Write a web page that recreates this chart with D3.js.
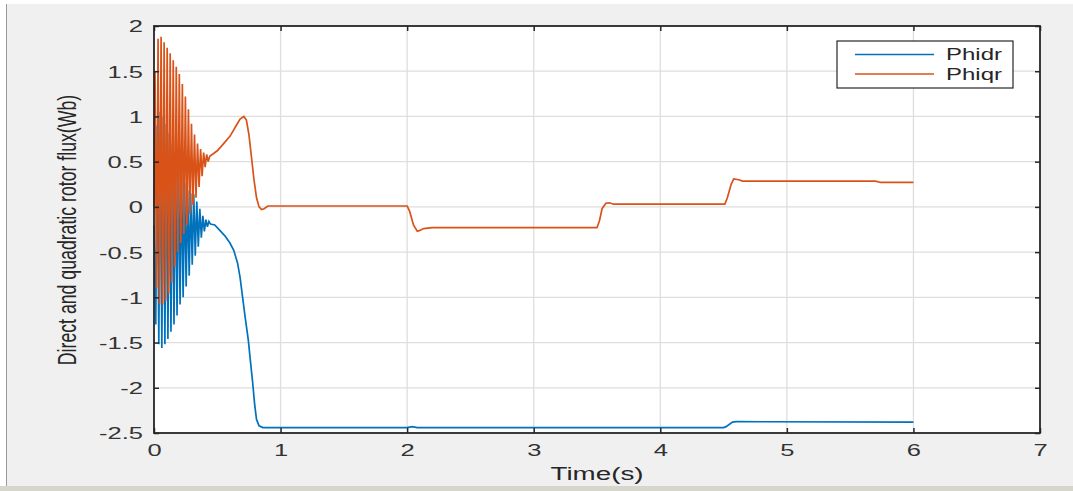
<!DOCTYPE html>
<html>
<head>
<meta charset="utf-8">
<script src="https://cdn.jsdelivr.net/npm/d3@7"></script>
<style>
  html, body { margin: 0; padding: 0; background: #ffffff; }
  #dataViz { width: 1073px; height: 491px; }
  text { font-family: "Liberation Sans", Arial, sans-serif; fill: #262626; }
</style>
</head>
<body>
<div id="dataViz"></div>
<script>
// Axis ticks
const timeTicks = [0, 1, 2, 3, 4, 5, 6, 7];
const fluxTicks = [-2.5, -2, -1.5, -1, -0.5, 0, 0.5, 1, 1.5, 2];
const seriesNames = ["Phidr", "Phiqr"];

// Phidr (direct rotor flux) [time s, flux Wb]
const phidr = [
  [0.000, -0.20], [0.014, -1.30], [0.026, 0.90], [0.038, -1.52], [0.050, 1.05],
  [0.062, -1.56], [0.074, 1.00], [0.086, -1.52], [0.098, 0.92], [0.110, -1.46],
  [0.122, 0.82], [0.134, -1.38], [0.146, 0.70], [0.158, -1.30], [0.170, 0.58],
  [0.182, -1.20], [0.194, 0.46], [0.206, -1.08], [0.218, 0.36], [0.230, -1.00],
  [0.242, 0.26], [0.254, -0.88], [0.266, 0.18], [0.278, -0.76], [0.290, 0.15],
  [0.302, -0.64], [0.314, 0.14], [0.326, -0.54], [0.338, 0.06], [0.350, -0.44],
  [0.362, -0.02], [0.374, -0.34], [0.386, -0.10], [0.398, -0.27], [0.410, -0.14],
  [0.422, -0.22], [0.434, -0.16], [0.446, -0.19],
  [0.48, -0.20], [0.52, -0.26], [0.56, -0.32], [0.60, -0.40], [0.63, -0.48],
  [0.66, -0.62], [0.68, -0.78], [0.70, -1.00], [0.72, -1.22], [0.745, -1.47],
  [0.76, -1.68], [0.78, -1.95], [0.795, -2.18], [0.81, -2.35], [0.83, -2.42],
  [0.86, -2.44], [1.00, -2.44], [2.00, -2.44], [2.04, -2.43], [2.08, -2.44],
  [4.50, -2.44], [4.52, -2.43], [4.57, -2.38], [4.60, -2.375], [6.00, -2.38]
];

// Phiqr (quadrature rotor flux) [time s, flux Wb]
const phiqr = [
  [0.000, 0.00], [0.008, 1.50], [0.020, -0.90], [0.032, 1.86], [0.044, -1.08],
  [0.056, 1.88], [0.068, -1.08], [0.080, 1.82], [0.092, -1.04], [0.104, 1.76],
  [0.116, -0.96], [0.128, 1.70], [0.140, -0.84], [0.152, 1.62], [0.164, -0.66],
  [0.176, 1.55], [0.188, -0.50], [0.200, 1.47], [0.212, -0.40], [0.224, 1.36],
  [0.236, -0.30], [0.248, 1.22], [0.260, -0.20], [0.272, 1.08], [0.284, -0.08],
  [0.296, 0.92], [0.308, 0.02], [0.320, 0.80], [0.332, 0.10], [0.344, 0.70],
  [0.356, 0.22], [0.368, 0.64], [0.380, 0.34], [0.392, 0.60], [0.404, 0.44],
  [0.416, 0.58], [0.428, 0.50], [0.440, 0.56],
  [0.50, 0.62], [0.55, 0.70], [0.60, 0.78], [0.65, 0.90], [0.68, 0.97],
  [0.71, 1.00], [0.73, 0.96], [0.75, 0.80], [0.77, 0.55], [0.79, 0.30],
  [0.81, 0.10], [0.83, 0.00], [0.85, -0.03], [0.87, -0.02], [0.90, 0.01],
  [1.00, 0.01], [2.00, 0.01], [2.02, -0.05], [2.05, -0.20], [2.08, -0.27],
  [2.10, -0.26], [2.13, -0.24], [2.20, -0.23], [3.50, -0.23], [3.52, -0.15],
  [3.54, -0.02], [3.57, 0.04], [3.60, 0.045], [3.63, 0.03], [4.51, 0.03],
  [4.53, 0.10], [4.56, 0.25], [4.58, 0.31], [4.62, 0.30], [4.65, 0.285],
  [5.70, 0.285], [5.74, 0.27], [6.00, 0.27]
];

const width = 1073;
const height = 491;
const plot = { left: 154, right: 1040, top: 26, bottom: 433 };

const colours = {
  "page": "#f0f0f0",
  "grid": "#dedede",
  "axis": "#262626",
  "Phidr": "#0072bd",
  "Phiqr": "#d95319"
};

// text in the reference is stretched sideways
const sx = 1.5;

const svg = d3.select("#dataViz").append("svg")
  .attr("width", width)
  .attr("height", height);

// Figure background
svg.append("rect").attr("x", 0).attr("y", 0).attr("width", width).attr("height", height).attr("fill", "#ffffff");
svg.append("rect").attr("x", 6).attr("y", 4).attr("width", width - 6).attr("height", 482).attr("fill", colours.page);
svg.append("line").attr("x1", 6.5).attr("x2", 6.5).attr("y1", 4).attr("y2", 486).attr("stroke", "#9a9a9a");
svg.append("rect").attr("x", 0).attr("y", 486).attr("width", width).attr("height", 5).attr("fill", "#d6d6cc");

// Scales
const xScale = d3.scaleLinear().domain([0, 7]).range([plot.left, plot.right]);
const yScale = d3.scaleLinear().domain([-2.5, 2]).range([plot.bottom, plot.top]);

svg.append("rect")
  .attr("x", plot.left).attr("y", plot.top)
  .attr("width", plot.right - plot.left).attr("height", plot.bottom - plot.top)
  .attr("fill", "#ffffff");

// Grid
svg.append("g")
  .selectAll("line")
  .data(timeTicks.slice(1, -1))
  .join("line")
  .attr("x1", d => xScale(d)).attr("x2", d => xScale(d))
  .attr("y1", plot.top).attr("y2", plot.bottom)
  .attr("stroke", colours.grid).attr("stroke-width", 1.3);

svg.append("g")
  .selectAll("line")
  .data(fluxTicks.slice(1, -1))
  .join("line")
  .attr("x1", plot.left).attr("x2", plot.right)
  .attr("y1", d => yScale(d)).attr("y2", d => yScale(d))
  .attr("stroke", colours.grid).attr("stroke-width", 1.3);

// Lines
const line = d3.line()
  .x(d => xScale(d[0]))
  .y(d => yScale(d[1]));

svg.append("path")
  .datum(phidr)
  .attr("fill", "none")
  .attr("stroke", colours.Phidr)
  .attr("stroke-width", 1.7)
  .attr("d", line);

svg.append("path")
  .datum(phiqr)
  .attr("fill", "none")
  .attr("stroke", colours.Phiqr)
  .attr("stroke-width", 1.7)
  .attr("d", line);

// Axes (ticks point inward)
const fmt = d => String(d);

const xAxis = svg.append("g")
  .attr("transform", `translate(0, ${plot.bottom})`)
  .call(d3.axisBottom(xScale).tickValues(timeTicks).tickFormat(fmt).tickSizeInner(-5).tickSizeOuter(0));
xAxis.selectAll("text")
  .attr("y", 17)
  .attr("dy", "0.35em")
  .attr("transform", `scale(${sx},1)`)
  .style("font-size", "17px")
  .style("fill", "#333");

const xAxisTop = svg.append("g")
  .attr("transform", `translate(0, ${plot.top})`)
  .call(d3.axisTop(xScale).tickValues(timeTicks).tickFormat("").tickSizeInner(-5).tickSizeOuter(0));

const yAxis = svg.append("g")
  .attr("transform", `translate(${plot.left}, 0)`)
  .call(d3.axisLeft(yScale).tickValues(fluxTicks).tickFormat(fmt).tickSizeInner(-5).tickSizeOuter(0));
yAxis.selectAll("text")
  .attr("x", -11 / sx)
  .attr("dy", "0.35em")
  .attr("transform", `scale(${sx},1)`)
  .style("font-size", "17px")
  .style("fill", "#333");

const yAxisRight = svg.append("g")
  .attr("transform", `translate(${plot.right}, 0)`)
  .call(d3.axisRight(yScale).tickValues(fluxTicks).tickFormat("").tickSizeInner(-5).tickSizeOuter(0));

svg.selectAll(".domain").attr("stroke", "none");
svg.selectAll(".tick line").attr("stroke", colours.axis).attr("stroke-width", 1.5);

// Axes box
svg.append("rect")
  .attr("x", plot.left).attr("y", plot.top)
  .attr("width", plot.right - plot.left).attr("height", plot.bottom - plot.top)
  .attr("fill", "none")
  .attr("stroke", colours.axis)
  .attr("stroke-width", 1.8);

// Label for the x-axis
svg.append("text")
  .attr("transform", `translate(597, 474) scale(${sx},1)`)
  .attr("dy", "0.35em")
  .style("text-anchor", "middle")
  .style("font-size", "18.5px")
  .text("Time(s)");

// Label for the y-axis
svg.append("text")
  .attr("transform", `translate(76, 230) scale(${sx},1) rotate(-90)`)
  .style("text-anchor", "middle")
  .style("font-size", "17.7px")
  .text("Direct and quadratic rotor flux(Wb)");

// Legend
const legend = svg.append("g");
legend.append("rect")
  .attr("x", 837).attr("y", 41).attr("width", 176).attr("height", 47)
  .attr("fill", "#ffffff")
  .attr("stroke", colours.axis)
  .attr("stroke-width", 1.2);

const legendItems = legend.selectAll(".item")
  .data(seriesNames)
  .join("g")
  .attr("class", "item")
  .attr("transform", (d, i) => `translate(0, ${54.5 + i * 19.5})`);

legendItems.append("line")
  .attr("x1", 855).attr("x2", 934)
  .attr("y1", 0).attr("y2", 0)
  .attr("stroke", d => colours[d])
  .attr("stroke-width", 1.3);

legendItems.append("text")
  .attr("transform", `translate(946, 0) scale(${sx},1)`)
  .attr("dy", "0.35em")
  .style("font-size", "16px")
  .text(d => d);
</script>
</body>
</html>
